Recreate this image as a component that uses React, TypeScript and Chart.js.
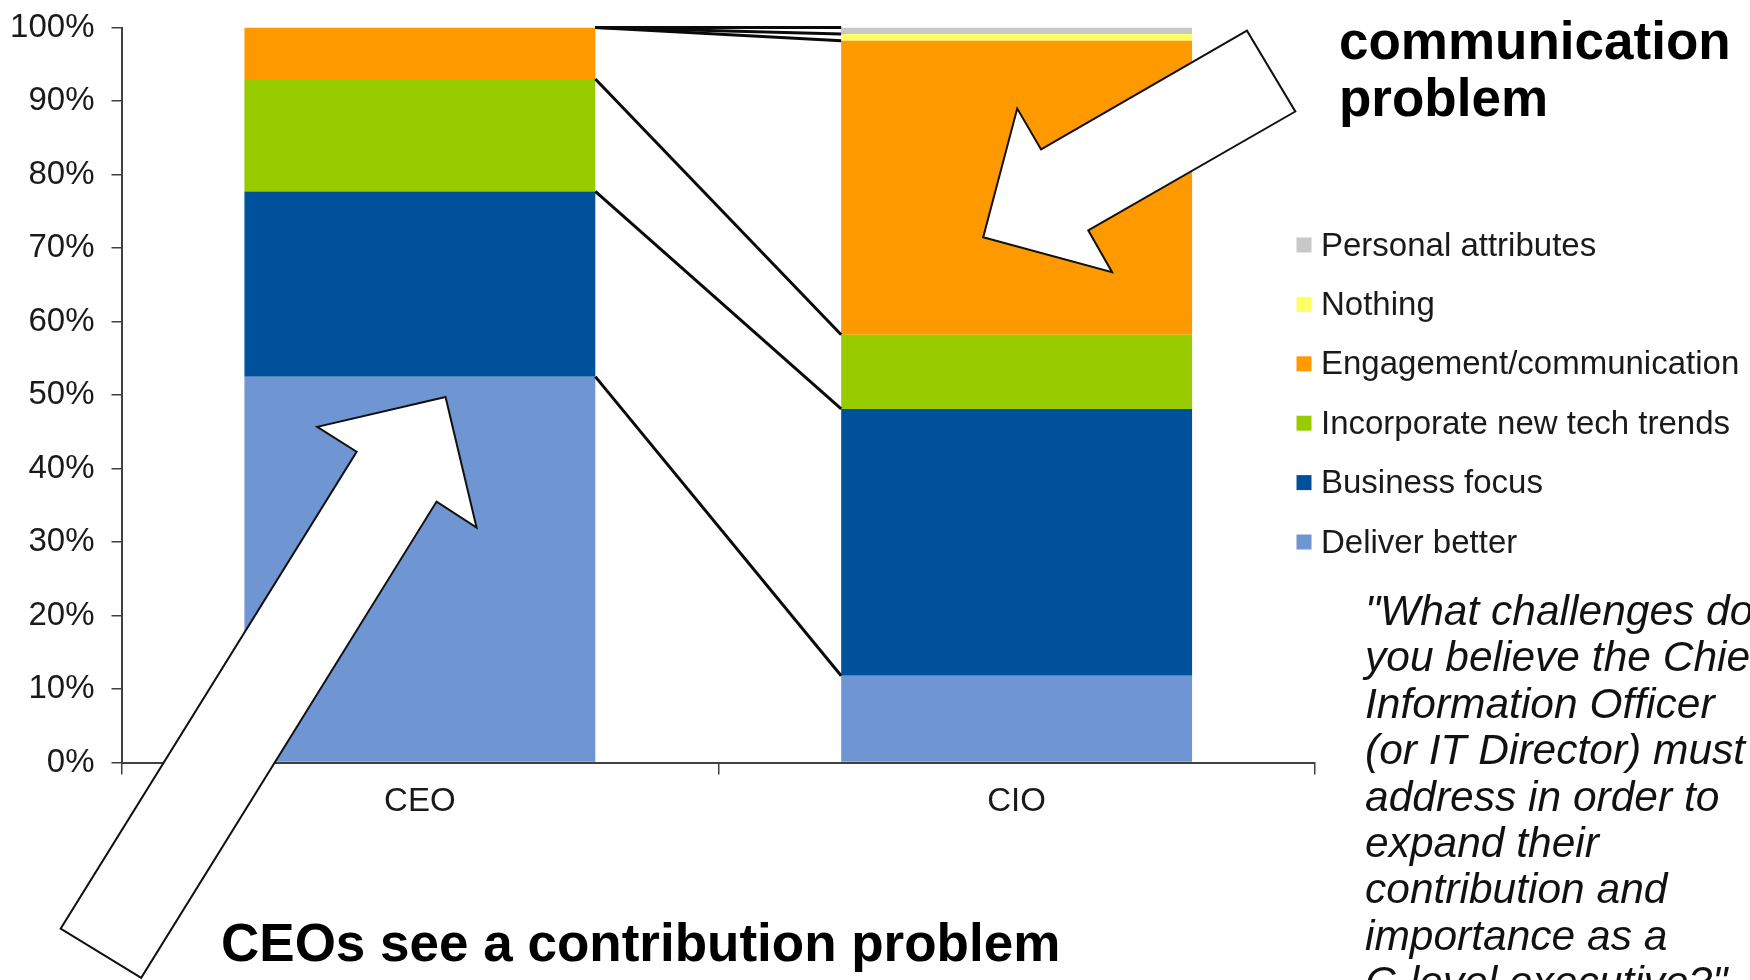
import React, { useEffect, useRef } from "react";
import { Chart, registerables } from "chart.js";

Chart.register(...registerables);

// ---------- data ----------
const categories = ["CEO", "CIO"];
const seriesNames = [
  "Deliver better",
  "Business focus",
  "Incorporate new tech trends",
  "Engagement/communication",
  "Nothing",
  "Personal attributes",
];
const deliverBetter = [52.5, 11.8];
const businessFocus = [25.2, 36.3];
const incorporateTech = [15.3, 10.1];
const engagementComm = [7.0, 40.0];
const nothingValues = [0, 0.9];
const personalAttributes = [0, 0.9];
const seriesColors = ["#6F96D2", "#00519B", "#99CC00", "#FF9900", "#FFFF66", "#C8C8C8"];
const yTickValues = [0, 10, 20, 30, 40, 50, 60, 70, 80, 90, 100];

// ---------- annotation text ----------
const calloutTopLines = ["communication", "problem"];
const calloutBottom = "CEOs see a contribution problem";
const questionLines = [
  "\"What challenges do",
  "you believe the Chief",
  "Information Officer",
  "(or IT Director) must",
  "address in order to",
  "expand their",
  "contribution and",
  "importance as a",
  "C-level executive?\"",
];

// block arrows in (category units, percent) coordinates
const arrowCEO = [
  [-0.602, -22.6],
  [-0.467, -29.3],
  [0.028, 35.5],
  [0.095, 31.96],
  [0.043, 49.74],
  [-0.172, 45.67],
  [-0.106, 42.28],
];
const arrowCIO = [
  [0.944, 71.46],
  [1.001, 88.98],
  [1.041, 83.41],
  [1.386, 99.57],
  [1.467, 88.57],
  [1.12, 72.41],
  [1.16, 66.71],
];

const FONT = "'Liberation Sans', Arial, Helvetica, sans-serif";

const seriesData = [
  deliverBetter,
  businessFocus,
  incorporateTech,
  engagementComm,
  nothingValues,
  personalAttributes,
];

const overlayPlugin = {
  id: "overlay",
  afterDatasetsDraw(chart: any) {
    const ctx = chart.ctx;
    const ys = chart.scales.y;
    const metas = seriesData.map((_, i) => chart.getDatasetMeta(i));
    const ceoBar = metas[0].data[0];
    const cioBar = metas[0].data[1];
    const xa = ceoBar.x + ceoBar.width / 2;
    const xb = cioBar.x - cioBar.width / 2;
    let ca = 0;
    let cb = 0;
    ctx.save();
    ctx.strokeStyle = "#0a0a0a";
    ctx.lineWidth = 3;
    for (let i = 0; i < seriesData.length; i++) {
      ca += seriesData[i][0];
      cb += seriesData[i][1];
      ctx.beginPath();
      ctx.moveTo(xa, ys.getPixelForValue(ca));
      ctx.lineTo(xb, ys.getPixelForValue(cb));
      ctx.stroke();
    }
    ctx.restore();
  },
  afterDraw(chart: any) {
    const ctx = chart.ctx;
    const xs = chart.scales.x;
    const ys = chart.scales.y;
    const drawArrow = (pts: number[][]) => {
      ctx.beginPath();
      pts.forEach((p, i) => {
        const px = xs.getPixelForValue(p[0]);
        const py = ys.getPixelForValue(p[1]);
        if (i === 0) ctx.moveTo(px, py);
        else ctx.lineTo(px, py);
      });
      ctx.closePath();
      ctx.fillStyle = "#ffffff";
      ctx.fill();
      ctx.strokeStyle = "#111";
      ctx.lineWidth = 2;
      ctx.lineJoin = "miter";
      ctx.stroke();
    };
    ctx.save();
    drawArrow(arrowCEO);
    drawArrow(arrowCIO);

    // callout texts
    ctx.fillStyle = "#000";
    ctx.textBaseline = "alphabetic";
    ctx.textAlign = "left";
    ctx.font = `bold 53px ${FONT}`;
    calloutTopLines.forEach((t, i) => ctx.fillText(t, 1339, 58.5 + i * 57));
    ctx.fillText(calloutBottom, 221, 961);

    // legend (top to bottom: reverse of stack)
    ctx.font = `33px ${FONT}`;
    const order = seriesNames.map((_, i) => i).reverse();
    order.forEach((idx, row) => {
      const base = 255.5 + row * 59.4;
      ctx.fillStyle = seriesColors[idx];
      ctx.fillRect(1296.5, base - 18, 15, 15);
      ctx.fillStyle = "#1a1a1a";
      ctx.fillText(seriesNames[idx], 1321, base);
    });

    // question text
    ctx.font = `italic 42.5px ${FONT}`;
    ctx.fillStyle = "#111";
    questionLines.forEach((t, i) => ctx.fillText(t, 1365, 625 + i * 46.4));
    ctx.restore();
  },
};

export default function App() {
  const ref = useRef<HTMLCanvasElement | null>(null);
  useEffect(() => {
    if (!ref.current) return;
    const chart = new Chart(ref.current, {
      type: "bar",
      data: {
        labels: categories,
        datasets: seriesData.map((d, i) => ({
          label: seriesNames[i],
          data: d,
          backgroundColor: seriesColors[i],
          borderWidth: 0,
          barPercentage: 0.588,
          categoryPercentage: 1.0,
        })),
      },
      options: {
        responsive: false,
        animation: false,
        devicePixelRatio: 1,
        layout: { padding: { top: 27.5, right: 435, left: 0, bottom: 0 } },
        plugins: {
          legend: { display: false },
          tooltip: { enabled: false },
          title: { display: false },
        },
        scales: {
          x: {
            stacked: true,
            offset: true,
            grid: {
              offset: true,
              drawOnChartArea: false,
              drawTicks: true,
              tickLength: 12,
              color: "#404040",
              lineWidth: 1.5,
            },
            border: { display: true, color: "#404040", width: 2 },
            ticks: {
              color: "#1a1a1a",
              font: { family: FONT, size: 33 },
              padding: 8,
            },
            afterFit: (scale: any) => {
              scale.height = 217.5;
              scale.paddingLeft = 0;
              scale.paddingRight = 0;
            },
          },
          y: {
            stacked: true,
            min: 0,
            max: 100,
            afterBuildTicks: (scale: any) => {
              scale.ticks = yTickValues.map((v) => ({ value: v }));
            },
            grid: {
              drawOnChartArea: false,
              drawTicks: true,
              tickLength: 10,
              color: "#404040",
              lineWidth: 1.5,
            },
            border: { display: true, color: "#404040", width: 2 },
            ticks: {
              color: "#1a1a1a",
              font: { family: FONT, size: 33 },
              padding: 17,
              callback: (v: any) => `${v}%`,
            },
            afterFit: (scale: any) => {
              scale.width = 121.5;
              scale.paddingTop = 0;
              scale.paddingBottom = 0;
            },
          },
        },
      },
      plugins: [overlayPlugin],
    });
    return () => chart.destroy();
  }, []);
  return (
    <div style={{ position: "absolute", left: 0, top: 0, width: 1750, height: 980, background: "#fff", overflow: "hidden" }}>
      <canvas ref={ref} width={1750} height={980} style={{ display: "block" }} />
    </div>
  );
}
